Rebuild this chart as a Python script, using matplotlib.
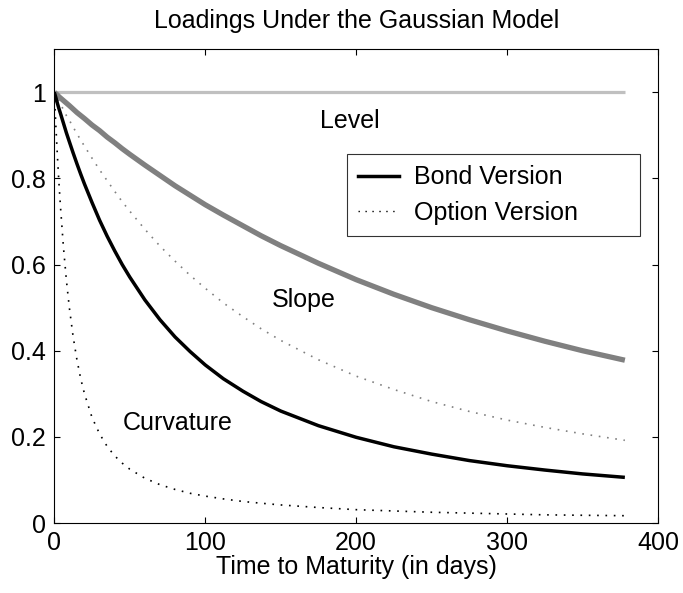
import matplotlib
matplotlib.use("Agg")
import matplotlib.pyplot as plt

plt.rcParams['font.family'] = ['Liberation Sans', 'DejaVu Sans']

t = [0, 1, 2, 3, 4, 6, 8, 10, 12.5, 15, 17.5, 20, 25, 30, 35, 40, 45, 50, 60, 70,
     80, 90, 100, 112, 125, 137, 150, 175, 200, 225, 250, 275, 300, 325, 350, 378]
level = [1.0] * len(t)
slope_bond = [1.0, 0.997, 0.994, 0.990, 0.987, 0.981, 0.975, 0.969, 0.961, 0.953,
              0.946, 0.939, 0.924, 0.911, 0.896, 0.883, 0.869, 0.856, 0.831, 0.807,
              0.783, 0.761, 0.739, 0.715, 0.690, 0.667, 0.644, 0.603, 0.565, 0.531,
              0.500, 0.472, 0.446, 0.422, 0.400, 0.378]
slope_option = [1.0, 0.993, 0.986, 0.980, 0.973, 0.960, 0.946, 0.935, 0.919, 0.904,
                0.889, 0.875, 0.847, 0.820, 0.795, 0.770, 0.746, 0.724, 0.682, 0.643,
                0.608, 0.575, 0.545, 0.511, 0.479, 0.451, 0.424, 0.379, 0.341, 0.310,
                0.282, 0.259, 0.239, 0.222, 0.207, 0.192]
curv_bond = [1.0, 0.988, 0.975, 0.963, 0.952, 0.929, 0.906, 0.885, 0.859, 0.834,
             0.810, 0.787, 0.744, 0.703, 0.666, 0.632, 0.600, 0.571, 0.518, 0.472,
             0.432, 0.398, 0.367, 0.335, 0.306, 0.282, 0.260, 0.226, 0.199, 0.177,
             0.160, 0.145, 0.133, 0.123, 0.114, 0.106]
curv_option = [1.0, 0.924, 0.856, 0.794, 0.739, 0.643, 0.564, 0.499, 0.432, 0.379,
               0.335, 0.300, 0.245, 0.207, 0.178, 0.156, 0.139, 0.125, 0.104, 0.089,
               0.078, 0.069, 0.0625, 0.056, 0.050, 0.046, 0.042, 0.036, 0.031, 0.028,
               0.025, 0.023, 0.021, 0.019, 0.018, 0.017]

fig = plt.figure(figsize=(6.83, 5.93), dpi=100)
ax = fig.add_axes([0.0795, 0.118, 0.884, 0.799])

dot = (0, (1, 4))
ax.plot(t, level, color='#c0c0c0', lw=2.3, solid_capstyle='butt')
ax.plot(t, slope_bond, color='#808080', lw=3.8, solid_capstyle='butt')
ax.plot(t, slope_option, color='#808080', lw=1.2, linestyle=dot)
ax.plot(t, curv_bond, color='black', lw=2.5, solid_capstyle='butt')
ax.plot(t, curv_option, color='black', lw=1.2, linestyle=dot)

# legend proxies
lb, = ax.plot([], [], color='black', lw=2.5, label='Bond Version')
lo, = ax.plot([], [], color='black', lw=1.0, linestyle=dot, label='Option Version')
leg = ax.legend(handles=[lb, lo], loc='upper left',
                bbox_to_anchor=(0.4844, 0.6785, 0.4858, 0.1), mode='expand',
                borderaxespad=0, fontsize=18, frameon=True, fancybox=False,
                edgecolor='black', handlelength=1.65, handletextpad=0.6,
                borderpad=0.45, labelspacing=0.45)
leg.get_frame().set_linewidth(0.8)

ax.text(195.8, 0.916, 'Level', fontsize=18, ha='center', va='baseline')
ax.text(165, 0.502, 'Slope', fontsize=18, ha='center', va='baseline')
ax.text(81.7, 0.216, 'Curvature', fontsize=18, ha='center', va='baseline')

ax.set_xlim(0, 400)
ax.set_ylim(0, 1.1)
ax.set_xticks([0, 100, 200, 300, 400])
ax.set_xticklabels(['0', '100', '200', '300', '400'])
ax.set_yticks([0, 0.2, 0.4, 0.6, 0.8, 1.0])
ax.set_yticklabels(['0', '0.2', '0.4', '0.6', '0.8', '1'])
ax.tick_params(direction='in', length=4.5, width=0.8, top=True, right=True,
               labelsize=18, pad=6)
for s in ax.spines.values():
    s.set_linewidth(0.8)
ax.set_xlabel('Time to Maturity (in days)', fontsize=18, labelpad=0)
ax.set_title('Loadings Under the Gaussian Model', fontsize=18, pad=15)

fig.savefig('out.png', dpi=100)
